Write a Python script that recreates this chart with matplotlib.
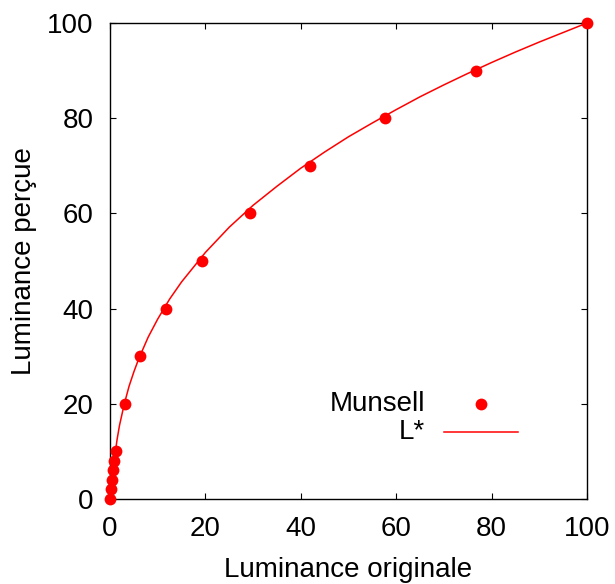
import matplotlib
matplotlib.use('Agg')
import matplotlib.pyplot as plt

plt.rcParams['font.family'] = ['Liberation Sans', 'DejaVu Sans']

# points Munsell (luminance originale, luminance perçue)
munsell_x = [0, 0.23, 0.45, 0.68, 0.92, 1.18, 3.05, 6.39, 11.7, 19.3, 29.3, 42.0, 57.6, 76.7, 100]
munsell_y = [0, 2, 4, 6, 8, 10, 20, 30, 40, 50, 60, 70, 80, 90, 100]

# courbe L*
lstar_x = [0, 0.25, 0.5, 0.885, 1, 1.5, 2, 3, 4, 5, 6, 8, 10, 12.5, 15, 20, 25, 30, 35,
           40, 45, 50, 55, 60, 65, 70, 75, 80, 85, 90, 95, 100]
lstar_y = [0, 2.3, 4.5, 8.0, 9.0, 12.6, 15.5, 20.0, 23.7, 26.7, 29.4, 34.0, 37.8, 42.0, 45.6,
           51.8, 57.1, 61.7, 65.7, 69.5, 72.9, 76.1, 79.0, 81.8, 84.5, 87.0, 89.4, 91.7,
           93.9, 96.0, 98.0, 100]

ticks = [0, 20, 40, 60, 80, 100]

fig = plt.figure(figsize=(6.15, 5.84), dpi=100)
ax = fig.add_axes([110 / 615, 85 / 584, 477 / 615, 476 / 584])

ax.plot(lstar_x, lstar_y, color='red', lw=1.1, zorder=2)
ax.plot(munsell_x, munsell_y, 'o', color='red', ms=8.5, mec='none', zorder=3, clip_on=False)

ax.set_xlim(0, 100)
ax.set_ylim(0, 100)
ax.set_xticks(ticks)
ax.set_yticks(ticks)
ax.tick_params(direction='in', length=4, width=0.8, top=True, right=True,
               labelsize=20, pad=12, colors='black')
for s in ax.spines.values():
    s.set_linewidth(1.0)

ax.set_xlabel('Luminance originale', fontsize=20, labelpad=11)
ax.set_ylabel('Luminance perçue', fontsize=20, labelpad=7)

# légende façon gnuplot
ax.text(0.660, 0.1996, 'Munsell', transform=ax.transAxes, ha='right', va='center', fontsize=20)
ax.plot([0.778], [0.1996], 'o', color='red', ms=8.5, mec='none', transform=ax.transAxes)
ax.text(0.660, 0.141, 'L*', transform=ax.transAxes, ha='right', va='center', fontsize=20)
ax.plot([0.700, 0.855], [0.141, 0.141], color='red', lw=1.1, transform=ax.transAxes)

fig.savefig('out.png', dpi=100)
